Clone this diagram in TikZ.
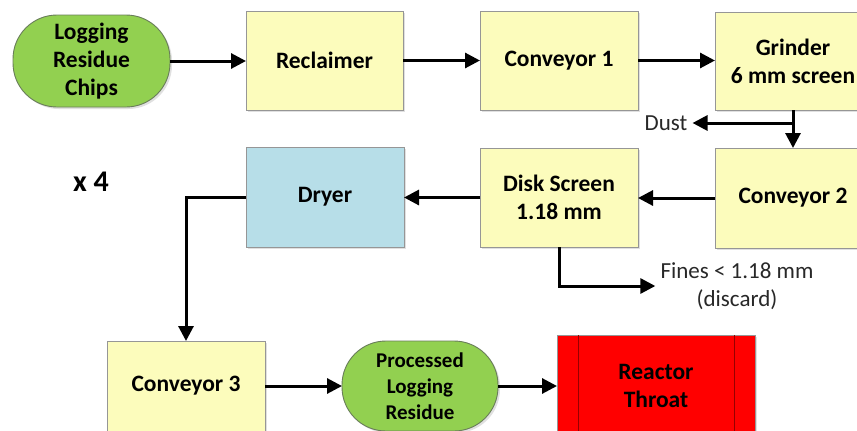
\documentclass[tikz,border=0pt]{standalone}
\usepackage{fontspec}
\setmainfont{Carlito}
\usetikzlibrary{arrows.meta,shadows}
\definecolor{boxyellow}{RGB}{252,252,188}
\definecolor{boxborder}{RGB}{150,150,150}
\definecolor{termgreen}{RGB}{146,208,80}
\definecolor{termborder}{RGB}{105,125,90}
\definecolor{dryblue}{RGB}{183,222,232}
\definecolor{reactred}{RGB}{255,0,0}
\definecolor{reactline}{RGB}{150,0,0}
\definecolor{lbltext}{RGB}{40,40,40}
\newcommand{\myboxfont}{\fontsize{23.5}{28}\selectfont\bfseries}
\newcommand{\mysmallbox}{\fontsize{21}{26}\selectfont\bfseries}
\newcommand{\mylblfont}{\fontsize{23}{28}\selectfont}
\newcommand{\mybigfont}{\fontsize{30}{34}\selectfont\bfseries}
\begin{document}
\begin{tikzpicture}[x=1pt,y=-1pt,
  proc/.style={rectangle, draw=boxborder, line width=0.9pt, fill=boxyellow,
    minimum width=157pt, minimum height=99pt, inner sep=0pt, outer sep=0pt,
    align=center, font=\myboxfont,
    general shadow={fill=black!12, shadow xshift=2pt, shadow yshift=-2pt}},
  term/.style={rectangle, rounded corners=44pt, draw=termborder, line width=0.9pt,
    fill=termgreen, inner sep=0pt, outer sep=0pt, align=center, font=\myboxfont,
    general shadow={fill=black!12, shadow xshift=2pt, shadow yshift=-2pt}},
  lbl/.style={align=center, font=\mylblfont, text=lbltext, inner sep=4pt},
  flow/.style={line width=3pt, -{Triangle[length=15pt,width=15pt]}}
]
\clip (0,0) rectangle (857,431);
\fill[white] (0,0) rectangle (857,431);

% nodes
\node[term, minimum width=157pt, minimum height=92pt] (lrc) at (91.5,61) {Logging\\Residue\\Chips};
\node[proc] (recl) at (324.5,60.5) {Reclaimer};
\node[proc, minimum width=158pt] (conv1) at (559,60.5) {Conveyor 1};
\node[proc, minimum width=156pt, minimum height=98pt] (grind) at (793,61) {Grinder\\6 mm screen};
\node[proc, minimum width=156pt, minimum height=100pt] (conv2) at (793,198) {Conveyor 2};
\node[proc, minimum width=158pt] (disk) at (559,197.5) {Disk Screen\\1.18 mm};
\node[proc, fill=dryblue, minimum width=158pt, minimum height=100pt] (dryer) at (325,197) {Dryer};
\node[proc, minimum width=158pt, minimum height=90pt] (conv3) at (186,386) {Conveyor 3};
\node[term, minimum width=156pt, minimum height=90pt, font=\mysmallbox] (plr) at (420,386) {Processed\\Logging\\Residue};
\node[proc, fill=reactred, draw=boxborder, minimum width=198pt, minimum height=102pt] (reactor) at (656,386) {Reactor\\Throat};
\draw[reactline, line width=0.9pt] ([xshift=21pt]reactor.north west) -- ([xshift=21pt]reactor.south west);
\draw[reactline, line width=0.9pt] ([xshift=-21pt]reactor.north east) -- ([xshift=-21pt]reactor.south east);

\node[font=\mybigfont] (x4) at (91,182) {x 4};
\node[lbl, inner sep=5pt] (dust) at (666,123) {Dust};
\node[lbl, inner sep=5pt] (fines) at (737,286) {Fines < 1.18 mm\\(discard)};
\coordinate (dj) at (grind.south |- dust.east);

% connectors
\draw[flow] (lrc.east) -- (lrc.east -| recl.west);
\draw[flow] (recl.east) -- (conv1.west);
\draw[flow] (conv1.east) -- (conv1.east -| grind.west);
\draw[flow] (grind.south) -- (conv2.north);
\draw[flow] (dj) -- (dust.east);
\draw[flow] (conv2.west) -- (conv2.west -| disk.east);
\draw[flow] (disk.west) -- (disk.west -| dryer.east);
\draw[flow] (disk.south) |- (fines.west);
\draw[flow] (dryer.west) -| (conv3.north);
\draw[flow] (conv3.east) -- (plr.west);
\draw[flow] (plr.east) -- (reactor.west);
\end{tikzpicture}
\end{document}
